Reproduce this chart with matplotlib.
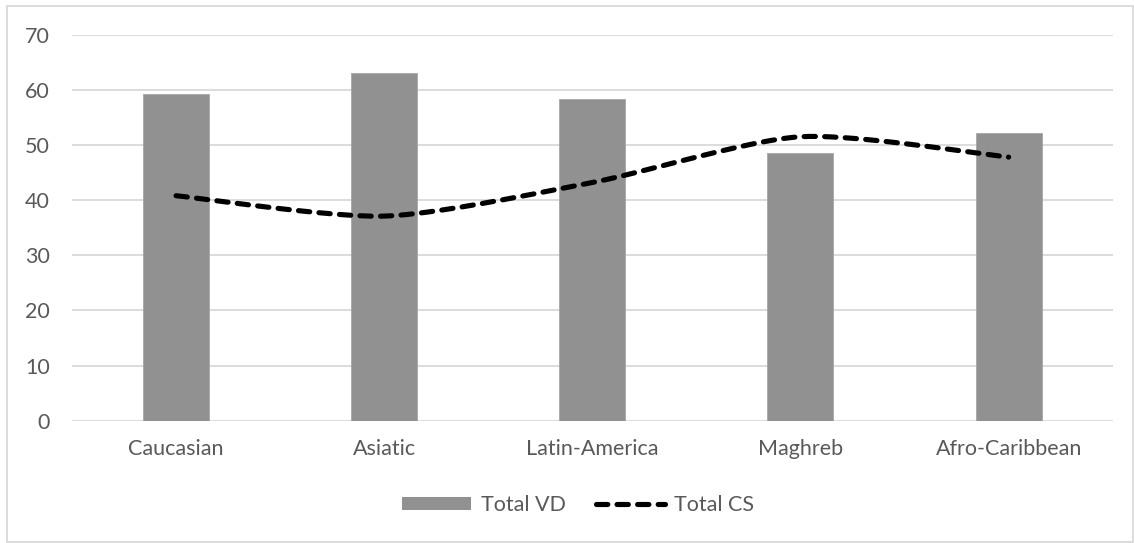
import numpy as np
import matplotlib.pyplot as plt
from matplotlib.lines import Line2D
from matplotlib.patches import Patch, Rectangle

groups = ["Caucasian", "Asiatic", "Latin-America", "Maghreb", "Afro-Caribbean"]
total_vd = [59.2, 63.0, 58.3, 48.5, 52.2]
total_cs = [40.8, 37.1, 43.2, 51.5, 47.8]
y_ticks = [0, 10, 20, 30, 40, 50, 60, 70]

BAR = "#919191"
GRID = "#d9d9d9"
TXT = "#595959"
plt.rcParams["font.family"] = ["Lato", "DejaVu Sans"]


def smooth(x, y, n=40, k=8.0):
    # Bezier through every point, like a spreadsheet "smoothed line"
    x = np.asarray(x, float); y = np.asarray(y, float)
    px = np.r_[x[0], x, x[-1]]; py = np.r_[y[0], y, y[-1]]
    t = np.linspace(0, 1, n)
    xs, ys = [], []
    for i in range(1, len(x)):
        p0, p1, p2, p3 = px[i-1], px[i], px[i+1], px[i+2]
        q0, q1, q2, q3 = py[i-1], py[i], py[i+1], py[i+2]
        c1x, c1y = p1 + (p2 - p0) / k, q1 + (q2 - q0) / k
        c2x, c2y = p2 - (p3 - p1) / k, q2 - (q3 - q1) / k
        b = [(1-t)**3, 3*(1-t)**2*t, 3*(1-t)*t**2, t**3]
        xs.append(b[0]*p1 + b[1]*c1x + b[2]*c2x + b[3]*p2)
        ys.append(b[0]*q1 + b[1]*c1y + b[2]*c2y + b[3]*q2)
    return np.concatenate(xs), np.concatenate(ys)


fig = plt.figure(figsize=(11.34, 5.43), dpi=100)
fig.patches.append(Rectangle((7/1134, 1/543), 1126/1134, 536/543, transform=fig.transFigure,
                             fill=False, edgecolor=GRID, linewidth=1.3))
ax = fig.add_axes([72/1134, 1 - 420.7/543, 1040.7/1134, 386/543])

x = np.arange(len(groups))
ax.bar(x, total_vd, width=0.317, color=BAR, edgecolor="#a6a6a6", linewidth=0.6, zorder=2)
sx, sy = smooth(x, total_cs)
ax.plot(sx, sy, color="black", linewidth=3.7, dashes=(2.2, 1.8),
        dash_capstyle="round", zorder=3)

ax.set_xlim(-0.5, len(groups) - 0.5)
ax.set_ylim(0, 70)
ax.set_yticks(y_ticks)
ax.set_xticks(x)
ax.set_xticklabels(groups)
ax.grid(True, axis="y", color=GRID, linewidth=1.3, zorder=0)
ax.set_axisbelow(True)
for s in ax.spines.values():
    s.set_visible(False)
ax.tick_params(axis="y", length=0, pad=16, labelsize=15.5, labelcolor=TXT)
ax.tick_params(axis="x", length=0, pad=13, labelsize=15.5, labelcolor=TXT)

handles = [Patch(facecolor=BAR, edgecolor="none"),
           Line2D([], [], color="black", linewidth=3.7, dashes=(2.2, 1.8),
                  dash_capstyle="round")]
fig.legend(handles, ["Total VD", "Total CS"], loc="center", ncol=2,
           bbox_to_anchor=(0.51, 1 - 505/543), frameon=False, fontsize=15.5,
           labelcolor=TXT, handlelength=3.2, handleheight=0.55,
           handletextpad=0.45, columnspacing=1.4)

fig.savefig("out.png", dpi=100, facecolor="white")
